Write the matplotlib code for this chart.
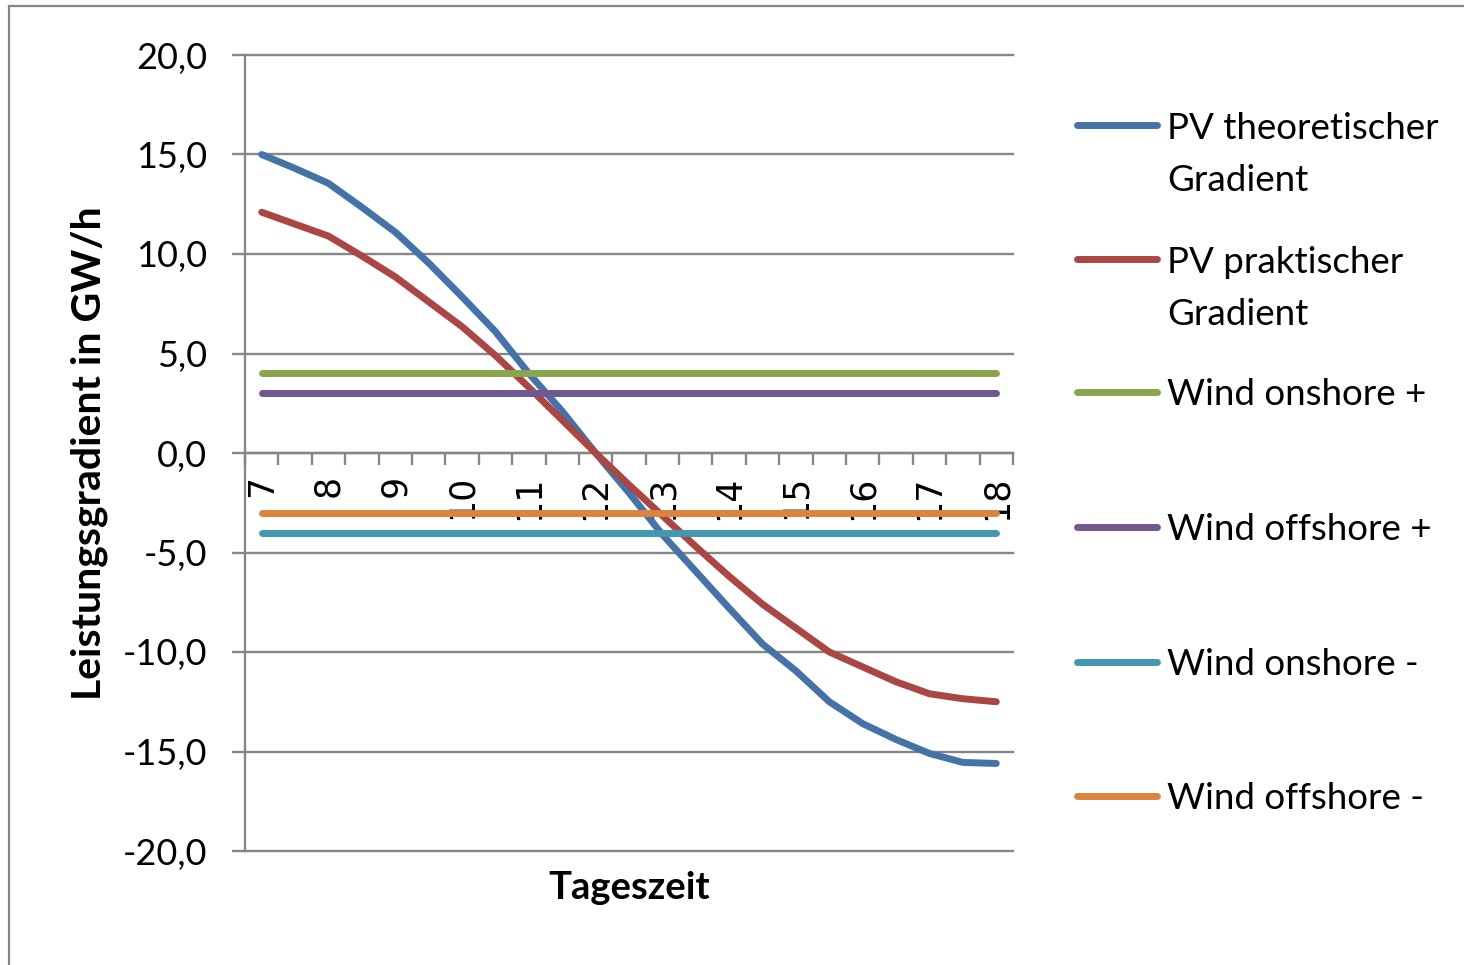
import matplotlib
matplotlib.use("Agg")
import matplotlib.pyplot as plt
from matplotlib.lines import Line2D
from matplotlib.patches import Rectangle
from matplotlib.ticker import FixedLocator, FuncFormatter

plt.rcParams['font.family'] = ['Lato', 'DejaVu Sans']

# ---- data -------------------------------------------------------------
times = [7.0, 7.5, 8.0, 8.5, 9.0, 9.5, 10.0, 10.5, 11.0, 11.5, 12.0, 12.5,
         13.0, 13.5, 14.0, 14.5, 15.0, 15.5, 16.0, 16.5, 17.0, 17.5, 18.0]
hour_labels = ["7", "8", "9", "10", "11", "12", "13", "14", "15", "16", "17", "18"]

pv_theoretisch = [15.0, 14.3, 13.55, 12.35, 11.1, 9.55, 7.85, 6.1, 4.0, 2.1, 0.0,
                  -2.0, -4.1, -5.95, -7.8, -9.6, -10.95, -12.5, -13.6, -14.4,
                  -15.1, -15.55, -15.6]
pv_praktisch = [12.1, 11.5, 10.9, 9.9, 8.85, 7.6, 6.35, 4.9, 3.3, 1.65, 0.0,
                -1.6, -3.15, -4.7, -6.2, -7.6, -8.8, -10.0, -10.75, -11.5,
                -12.1, -12.35, -12.5]
wind_onshore_plus = [4.0] * len(times)
wind_offshore_plus = [3.0] * len(times)
wind_onshore_minus = [-4.0] * len(times)
wind_offshore_minus = [-3.0] * len(times)

series_names = ["PV theoretischer\nGradient", "PV praktischer\nGradient",
                "Wind onshore +", "Wind offshore +", "Wind onshore -",
                "Wind offshore -"]
series_values = [pv_theoretisch, pv_praktisch, wind_onshore_plus,
                 wind_offshore_plus, wind_onshore_minus, wind_offshore_minus]
series_colors = ["#4572A7", "#AA4643", "#89A54E", "#71588F", "#4198AF", "#DB843D"]

yticks = [-20, -15, -10, -5, 0, 5, 10, 15, 20]

# ---- figure -----------------------------------------------------------
W, H = 1464, 965
GRAY = "#868686"
fig = plt.figure(figsize=(W / 100, H / 100), dpi=100)
fig.patch.set_facecolor("white")

# outer chart border
fig.patches.append(Rectangle((9 / W, -0.1), 1.2, 1 - 6 / H + 0.1,
                             transform=fig.transFigure, fill=False,
                             edgecolor=GRAY, linewidth=1.6, zorder=0))

ax = fig.add_axes([245 / W, 1 - 851 / H, 768 / W, 796 / H])
ax.set_facecolor("none")

x = list(range(len(times)))
for k in range(len(series_values)):
    ax.plot(x, series_values[k], color=series_colors[k], lw=5,
            solid_capstyle="round", solid_joinstyle="round", zorder=5 + k)

ax.set_xlim(-0.5, len(times) - 0.5)
ax.set_ylim(-20, 20)

# spines
for s in ["top", "right"]:
    ax.spines[s].set_visible(False)
ax.spines["left"].set_color(GRAY)
ax.spines["left"].set_linewidth(1.7)
ax.spines["bottom"].set_position(("data", 0))
ax.spines["bottom"].set_color(GRAY)
ax.spines["bottom"].set_linewidth(1.7)
ax.spines["left"].set_zorder(1)
ax.spines["bottom"].set_zorder(1)

# y axis
ax.yaxis.set_major_locator(FixedLocator(yticks))
ax.yaxis.set_major_formatter(FuncFormatter(lambda v, p: f"{v:.1f}".replace(".", ",")))
ax.tick_params(axis="y", direction="out", length=9.4, width=1.7, color=GRAY,
               pad=18, labelsize=26)
ax.yaxis.grid(True, color=GRAY, linewidth=1.7)
for gl in ax.get_ygridlines():
    gl.set_clip_on(False)
ax.set_axisbelow(True)

# x axis: category boundaries as major ticks, labels at hours (minor)
ax.xaxis.set_major_locator(FixedLocator([i - 0.5 for i in range(len(times) + 1)]))
ax.xaxis.set_major_formatter(FuncFormatter(lambda v, p: ""))
label_pos = [i for i, t in enumerate(times) if float(t).is_integer()]
ax.set_xticks(label_pos, labels=hour_labels, minor=True)
ax.tick_params(axis="x", which="major", direction="out", length=8.6, width=1.7,
               color=GRAY)
ax.tick_params(axis="x", which="minor", length=0, pad=16, labelsize=25,
               labelrotation=90, labelfontfamily="DejaVu Sans")

# axis titles
fig.text(89 / W, 1 - 453 / H, "Leistungsgradient in GW/h", rotation=90,
         ha="center", va="center", fontsize=29.5, fontweight="bold")
fig.text(629 / W, 1 - 888 / H, "Tageszeit", ha="center", va="center",
         fontsize=27.5, fontweight="bold")

# legend (manual, Excel style)
leg_y = [125, 259, 392, 527, 662, 796]
line_gap = 53
for k, yy in enumerate(leg_y):
    fy = 1 - yy / H
    fig.add_artist(Line2D([1077 / W, 1157 / W], [fy, fy], transform=fig.transFigure,
                          color=series_colors[k], lw=5, solid_capstyle="round"))
    nlines = series_names[k].count("\n")
    fig.text(1167 / W, 1 - (yy + 13 + nlines * line_gap) / H, series_names[k],
             ha="left", va="baseline", fontsize=26.5, linespacing=1.72)

fig.savefig("out.png", dpi=100)
